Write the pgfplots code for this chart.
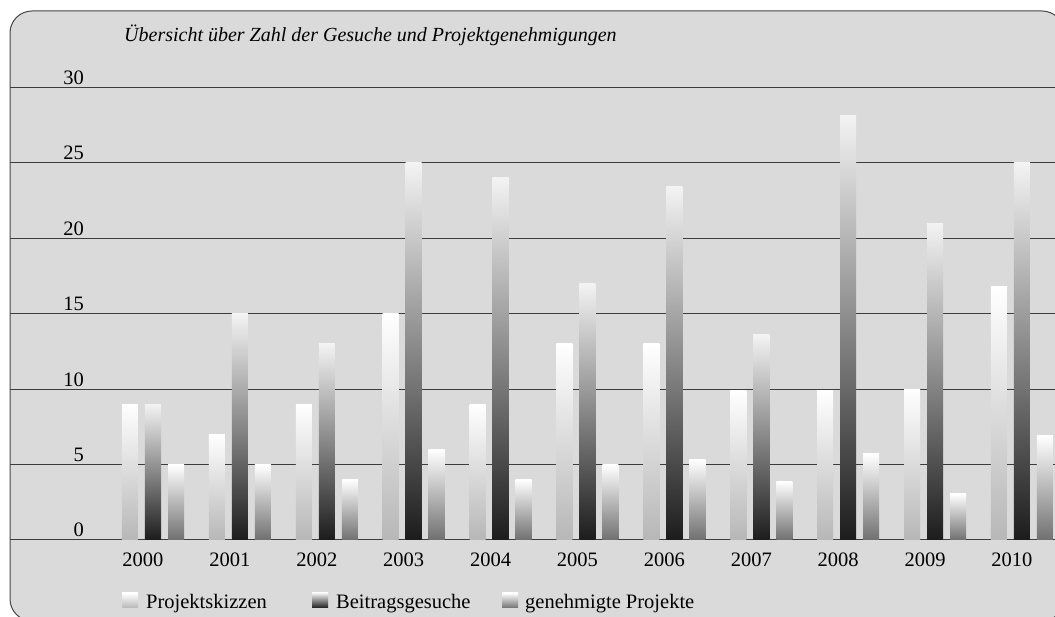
\documentclass[border=0pt]{standalone}
\usepackage{fontspec}
\setmainfont{Liberation Serif}
\usepackage{pgfplots}
\pgfplotsset{compat=1.18}
\definecolor{bg}{RGB}{217,218,217}
\definecolor{bordercol}{RGB}{70,70,70}
\definecolor{gridcol}{RGB}{60,60,60}
\definecolor{skizB}{RGB}{182,183,182}
\definecolor{beitT}{RGB}{242,243,242}
\definecolor{beitB}{RGB}{28,28,28}
\definecolor{genB}{RGB}{112,112,112}
\pgfplotsset{
  skiz/.style={ybar, bar width=16bp, bar shift=-23bp, draw=none, top color=white, bottom color=skizB},
  beit/.style={ybar, bar width=16bp, bar shift=0bp, draw=none, top color=beitT, bottom color=beitB},
  gen/.style={ybar, bar width=16bp, bar shift=23bp, draw=none, top color=white, bottom color=genB},
}
\begin{document}
\begin{tikzpicture}[x=1bp,y=1bp]
\draw[fill=bg, draw=bordercol, line width=1bp, rounded corners=22bp] (10,-4) rectangle (1064,606);
\begin{axis}[
  at={(10bp,77bp)}, anchor=south west,
  scale only axis, width=1045bp, height=452.7bp,
  xmin=-1.6456, xmax=10.38, ymin=0, ymax=30,
  axis line style={draw=none},
  major tick length=0pt,
  ymajorgrids, grid style={draw=gridcol, line width=1bp},
  xtick={0,...,10},
  xticklabels={2000,2001,2002,2003,2004,2005,2006,2007,2008,2009,2010},
  ytick={0,5,...,30},
  /pgf/number format/assume math mode=true,
  ticklabel style={font=\fontsize{20.5bp}{24bp}\selectfont, inner sep=0pt},
  yticklabel style={anchor=base east, xshift=74bp, yshift=3bp},
  xticklabel style={anchor=north, xshift=-10bp, yshift=-13bp},
  clip=false,
]
% Projektskizzen
\addplot[skiz] coordinates {(0,9)};
\addplot[skiz] coordinates {(1,7)};
\addplot[skiz] coordinates {(2,9)};
\addplot[skiz] coordinates {(3,15)};
\addplot[skiz] coordinates {(4,9)};
\addplot[skiz] coordinates {(5,13)};
\addplot[skiz] coordinates {(6,13)};
\addplot[skiz] coordinates {(7,9.9)};
\addplot[skiz] coordinates {(8,9.9)};
\addplot[skiz] coordinates {(9,10)};
\addplot[skiz] coordinates {(10,16.8)};
% Beitragsgesuche
\addplot[beit] coordinates {(0,9)};
\addplot[beit] coordinates {(1,15)};
\addplot[beit] coordinates {(2,13)};
\addplot[beit] coordinates {(3,25)};
\addplot[beit] coordinates {(4,24)};
\addplot[beit] coordinates {(5,17)};
\addplot[beit] coordinates {(6,23.4)};
\addplot[beit] coordinates {(7,13.6)};
\addplot[beit] coordinates {(8,28.1)};
\addplot[beit] coordinates {(9,21)};
\addplot[beit] coordinates {(10,25)};
% genehmigte Projekte
\addplot[gen] coordinates {(0,5)};
\addplot[gen] coordinates {(1,5)};
\addplot[gen] coordinates {(2,4)};
\addplot[gen] coordinates {(3,6)};
\addplot[gen] coordinates {(4,4)};
\addplot[gen] coordinates {(5,5)};
\addplot[gen] coordinates {(6,5.35)};
\addplot[gen] coordinates {(7,3.9)};
\addplot[gen] coordinates {(8,5.7)};
\addplot[gen] coordinates {(9,3.05)};
\addplot[gen] coordinates {(10,6.9)};
\end{axis}
\node[anchor=base west, inner sep=0pt, font=\fontsize{20bp}{24bp}\selectfont\itshape] at (124,575) {Übersicht über Zahl der Gesuche und Projektgenehmigungen};
\fill[top color=white, bottom color=skizB] (122,9) rectangle (138,24);
\fill[top color=beitT, bottom color=beitB] (312,9) rectangle (328,24);
\fill[top color=white, bottom color=genB] (502,9) rectangle (518,24);
\node[anchor=base west, inner sep=0pt, font=\fontsize{20.5bp}{24bp}\selectfont] at (146,8) {Projektskizzen};
\node[anchor=base west, inner sep=0pt, font=\fontsize{20.5bp}{24bp}\selectfont] at (336,8) {Beitragsgesuche};
\node[anchor=base west, inner sep=0pt, font=\fontsize{20.5bp}{24bp}\selectfont] at (525,8) {genehmigte Projekte};
\pgfresetboundingbox
\useasboundingbox (0,0) rectangle (1055,617);
\end{tikzpicture}
\end{document}
